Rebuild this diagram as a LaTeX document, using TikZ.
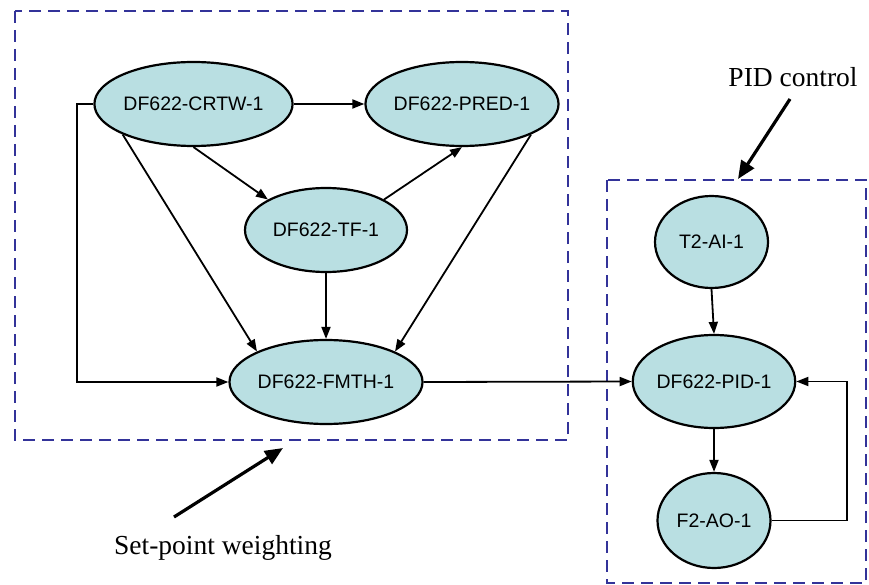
\documentclass[tikz,border=0pt]{standalone}
\usepackage{fontspec}
\setmainfont{Liberation Serif}
\newfontfamily\nodefont{Liberation Sans}
\usetikzlibrary{shapes.geometric,arrows.meta}
\definecolor{nodefill}{RGB}{185,223,226}
\definecolor{boxblue}{RGB}{51,51,153}
\begin{document}
\begin{tikzpicture}[x=1pt,y=-1pt,
  blob/.style={ellipse,draw=black,line width=2.2pt,fill=nodefill,inner sep=0pt,
    font=\nodefont\fontsize{19.5}{22}\selectfont},
  conn/.style={line width=1.8pt,-{Triangle[length=12pt,width=9pt]}},
  groupbox/.style={draw=boxblue,line width=2.8pt,dash pattern=on 12pt off 7pt},
  bigarrow/.style={line width=3.2pt,-{Triangle[length=18pt,width=15pt]}},
  caption/.style={font=\fontsize{27.5}{30}\selectfont,inner sep=0pt}]
\useasboundingbox (0,0) rectangle (869,585);
% group boxes
\draw[groupbox] (15,11) rectangle (568,440);
\draw[groupbox] (607,180) rectangle (866,583);
% nodes
\node[blob,minimum width=183pt,minimum height=84pt] (crtw) at (193.5,104) {DF622-CRTW-1};
\node[blob,minimum width=182pt,minimum height=84pt] (pred) at (462,104) {DF622-PRED-1};
\node[blob,minimum width=162pt,minimum height=84pt] (tf) at (326,230) {DF622-TF-1};
\node[blob,minimum width=182pt,minimum height=84pt] (fmth) at (326,382) {DF622-FMTH-1};
\node[blob,minimum width=113pt,minimum height=92pt] (ai) at (711.5,242) {T2-AI-1};
\node[blob,minimum width=136pt,minimum height=93pt] (pid) at (714,381.5) {DF622-PID-1};
\node[blob,minimum width=113pt,minimum height=95pt] (ao) at (714,520.5) {F2-AO-1};
% connectors
\draw[conn] (crtw.east) -- (pred.west);
\draw[conn] (crtw.south) -- (tf.north west);
\draw[conn] (tf.north east) -- (pred.south);
\draw[conn] (crtw.south west) -- (fmth.north west);
\draw[conn] (pred.south east) -- (fmth.north east);
\draw[conn] (tf.south) -- (fmth.north);
\coordinate (loopa) at (77,104);
\coordinate (loopb) at (77,382);
\draw[conn] (crtw.west) -- (loopa) -- (loopb) -- (fmth.west);
\draw[conn] (fmth.east) -- (pid.west);
\draw[conn] (ai.south) -- (pid.north);
\draw[conn] (pid.south) -- (ao.north);
\coordinate (fba) at (847,520.5);
\coordinate (fbb) at (847,381.5);
\draw[conn] (ao.east) -- (fba) -- (fbb) -- (pid.east);
% annotations
\node[caption] (pidlab) at (793,77) {PID control};
\coordinate (pidtip) at (738,179);
\draw[bigarrow] (790,99) -- (pidtip);
\node[caption] (splab) at (223,548) {Set-point weighting};
\coordinate (sptip) at (283,448);
\draw[bigarrow] (174,517) -- (sptip);
\end{tikzpicture}
\end{document}
